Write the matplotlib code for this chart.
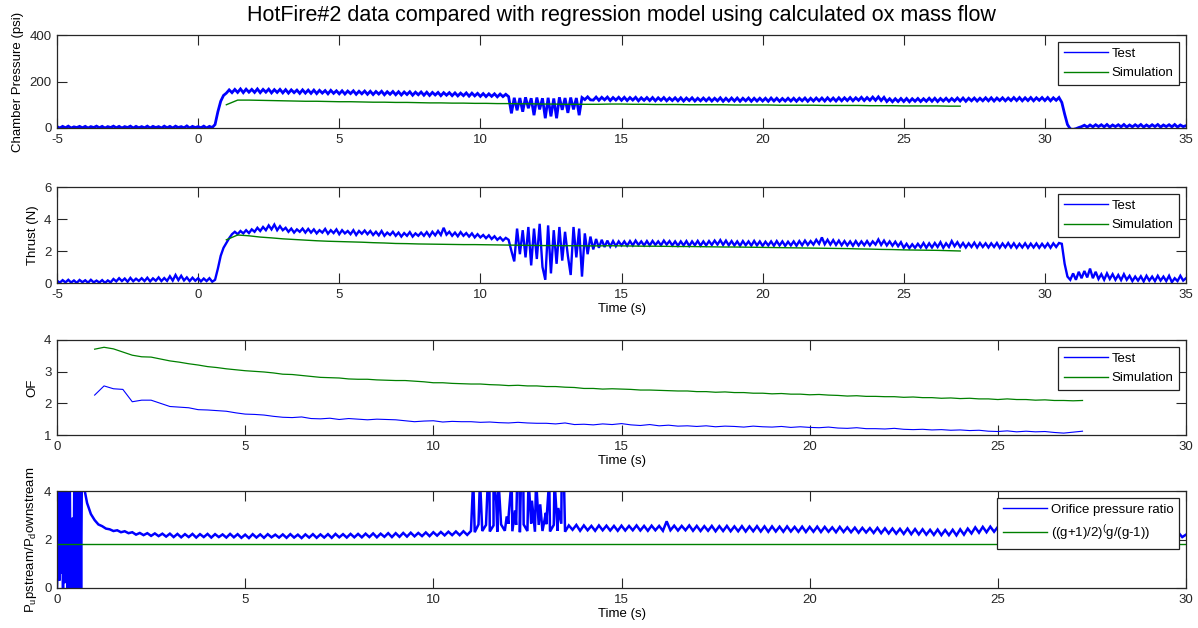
import numpy as np
import matplotlib
matplotlib.use("Agg")
import matplotlib.pyplot as plt
from matplotlib.lines import Line2D

# ---------------- data ----------------
# Chamber pressure, test (psi), sampled every 0.1 s from -5 s to 35 s
pc_test = [
    6, 0, 7, 1, 8, 0, 5, 2, 7, 1,
    7, 0, 6, 2, 8, 1, 7, 0, 6, 2,
    8, 1, 7, 0, 6, 2, 8, 0, 7, 1,
    6, 1, 8, 0, 7, 2, 6, 0, 8, 1,
    7, 0, 8, 2, 6, 1, 9, 0, 7, 2,
    6, 1, 8, 0, 7, 2, 15, 70, 115, 140,
    150, 164, 152, 166, 153, 168, 152, 167, 154, 166,
    153, 168, 152, 166, 154, 167, 151, 165, 153, 166,
    151, 165, 150, 164, 152, 163, 149, 164, 150, 163,
    149, 163, 148, 162, 150, 161, 147, 162, 149, 160,
    147, 160, 146, 159, 148, 160, 145, 158, 147, 159,
    145, 158, 144, 157, 146, 158, 143, 156, 145, 157,
    143, 156, 142, 155, 144, 156, 141, 154, 143, 155,
    141, 154, 140, 153, 142, 153, 139, 152, 141, 152,
    139, 151, 138, 150, 139, 151, 137, 150, 138, 149,
    136, 148, 135, 147, 136, 147, 134, 146, 135, 145,
    135, 63, 130, 76, 129, 70, 132, 85, 128, 55,
    131, 80, 128, 42, 130, 50, 127, 42, 132, 78,
    129, 65, 131, 80, 129, 55, 131, 122, 134, 121,
    120, 133, 119, 132, 121, 133, 118, 131, 120, 132,
    119, 132, 118, 131, 120, 132, 117, 130, 119, 131,
    118, 131, 117, 130, 119, 131, 117, 129, 118, 130,
    117, 130, 116, 129, 118, 130, 116, 128, 117, 129,
    117, 129, 116, 128, 117, 130, 115, 128, 116, 129,
    116, 129, 115, 128, 117, 129, 115, 128, 116, 128,
    116, 128, 115, 129, 116, 128, 115, 127, 116, 128,
    116, 128, 115, 128, 117, 129, 115, 128, 116, 129,
    117, 129, 116, 130, 117, 129, 116, 130, 117, 130,
    118, 131, 117, 130, 119, 132, 118, 131, 119, 133,
    119, 134, 118, 132, 114, 126, 113, 126, 114, 127,
    114, 127, 113, 126, 115, 127, 114, 126, 115, 128,
    115, 128, 114, 127, 116, 128, 115, 127, 116, 129,
    116, 129, 115, 128, 117, 129, 116, 128, 117, 130,
    117, 130, 116, 129, 118, 130, 117, 129, 118, 131,
    118, 131, 117, 130, 118, 131, 117, 130, 119, 131,
    118, 131, 117, 130, 119, 131, 110, 60, 15, -4,
    -6, -3, 2, 6, 12, 4, 13, 5, 14, 6,
    14, 5, 15, 4, 13, 6, 14, 5, 15, 4,
    13, 5, 14, 6, 15, 4, 13, 5, 14, 6,
    15, 4, 13, 6, 14, 5, 15, 4, 13, 6,
    10,
]

# Thrust, test (N), sampled every 0.1 s from -5 s to 35 s
thrust_test = [
    0.15, 0.02, 0.18, 0.04, 0.20, 0.03, 0.16, 0.01, 0.19, 0.05,
    0.17, 0.02, 0.20, 0.04, 0.15, 0.03, 0.18, 0.01, 0.16, 0.04,
    0.25, 0.10, 0.30, 0.12, 0.28, 0.08, 0.32, 0.11, 0.27, 0.13,
    0.30, 0.12, 0.33, 0.10, 0.29, 0.14, 0.35, 0.12, 0.31, 0.13,
    0.42, 0.15, 0.50, 0.18, 0.45, 0.16, 0.35, 0.12, 0.33, 0.14,
    0.30, 0.10, 0.28, 0.12, 0.30, 0.08, 0.20, 0.90, 1.70, 2.20,
    2.50, 2.80, 3.05, 3.20, 3.05, 3.25, 3.10, 3.30, 3.12, 3.35,
    3.20, 3.45, 3.25, 3.50, 3.30, 3.60, 3.35, 3.65, 3.30, 3.55,
    3.30, 3.45, 3.20, 3.40, 3.15, 3.35, 3.20, 3.40, 3.15, 3.38,
    3.15, 3.35, 3.10, 3.30, 3.15, 3.38, 3.08, 3.30, 3.12, 3.35,
    3.05, 3.30, 3.10, 3.25, 3.05, 3.30, 3.00, 3.25, 3.08, 3.28,
    3.05, 3.25, 3.00, 3.20, 2.98, 3.25, 2.95, 3.15, 3.00, 3.20,
    2.95, 3.15, 2.90, 3.12, 2.95, 3.18, 2.90, 3.10, 2.95, 3.15,
    2.95, 3.18, 2.92, 3.20, 2.98, 3.25, 3.00, 3.45, 3.02, 3.20,
    2.95, 3.15, 2.92, 3.18, 2.95, 3.12, 2.90, 3.10, 2.85, 3.05,
    2.85, 3.00, 2.80, 2.98, 2.75, 2.92, 2.70, 2.85, 2.65, 2.82,
    2.70, 2.00, 1.35, 3.40, 1.80, 3.30, 1.60, 3.50, 1.10, 3.40,
    1.50, 3.70, 1.00, 0.20, 3.60, 0.60, 3.30, 1.20, 3.50, 1.40,
    3.20, 1.70, 0.50, 3.50, 1.60, 3.40, 0.40, 3.10, 1.80, 2.90,
    2.10, 2.75, 2.20, 2.70, 2.25, 2.65, 2.28, 2.62, 2.30, 2.60,
    2.35, 2.60, 2.33, 2.62, 2.35, 2.65, 2.38, 2.60, 2.35, 2.62,
    2.35, 2.63, 2.38, 2.60, 2.36, 2.65, 2.40, 2.62, 2.35, 2.60,
    2.33, 2.60, 2.35, 2.62, 2.32, 2.60, 2.36, 2.63, 2.34, 2.60,
    2.35, 2.62, 2.38, 2.65, 2.40, 2.68, 2.38, 2.65, 2.36, 2.62,
    2.35, 2.60, 2.33, 2.62, 2.36, 2.60, 2.34, 2.63, 2.35, 2.60,
    2.32, 2.58, 2.35, 2.60, 2.33, 2.62, 2.35, 2.60, 2.32, 2.58,
    2.35, 2.60, 2.33, 2.62, 2.36, 2.65, 2.38, 2.62, 2.40, 2.70,
    2.45, 2.85, 2.42, 2.70, 2.40, 2.68, 2.38, 2.65, 2.36, 2.62,
    2.35, 2.60, 2.33, 2.62, 2.35, 2.60, 2.36, 2.62, 2.35, 2.60,
    2.40, 2.72, 2.38, 2.65, 2.35, 2.60, 2.33, 2.58, 2.30, 2.55,
    2.20, 2.45, 2.18, 2.42, 2.20, 2.45, 2.22, 2.50, 2.20, 2.48,
    2.22, 2.50, 2.25, 2.55, 2.20, 2.48, 2.25, 2.62, 2.30, 2.55,
    2.25, 2.50, 2.22, 2.48, 2.25, 2.52, 2.22, 2.50, 2.25, 2.48,
    2.22, 2.48, 2.25, 2.50, 2.20, 2.47, 2.23, 2.50, 2.22, 2.48,
    2.20, 2.45, 2.22, 2.48, 2.20, 2.46, 2.22, 2.47, 2.20, 2.45,
    2.22, 2.47, 2.20, 2.48, 2.25, 2.50, 2.45, 1.20, 0.40, 0.20,
    0.60, 0.20, 0.70, 0.30, 0.75, 0.35, 0.90, 0.30, 0.70, 0.25,
    0.55, 0.20, 0.60, 0.25, 0.55, 0.20, 0.50, 0.18, 0.55, 0.20,
    0.45, 0.12, 0.40, 0.15, 0.42, 0.10, 0.45, 0.15, 0.40, 0.12,
    0.45, 0.15, 0.40, 0.12, 0.45, 0.05, 0.30, 0.12, 0.45, 0.15,
    0.30,
]
test_dt = 0.1
test_t0 = -5.0

# Simulation (regression model), sampled every 0.4 s from 1.0 s
sim_t0, sim_dt = 1.0, 0.4
pc_sim = [
    100, 120, 120, 119, 118, 117, 116, 115, 115, 114,
    113, 113, 112, 111, 111, 110, 110, 109, 108, 108,
    107, 107, 106, 106, 105, 105, 104, 104, 103, 103,
    102, 102, 102, 102, 103, 103, 102, 102, 101, 101,
    101, 100, 100, 100, 100, 99, 99, 99, 99, 98,
    98, 98, 98, 97, 97, 97, 97, 96, 96, 96,
    95, 95, 95, 95, 94, 94,
]
thrust_sim = [
    2.70, 3.00, 2.95, 2.87, 2.82, 2.76, 2.72, 2.68, 2.64, 2.61,
    2.59, 2.57, 2.55, 2.52, 2.50, 2.47, 2.46, 2.44, 2.43, 2.42,
    2.41, 2.40, 2.40, 2.39, 2.38, 2.37, 2.36, 2.35, 2.34, 2.34,
    2.33, 2.33, 2.32, 2.32, 2.33, 2.32, 2.31, 2.30, 2.30, 2.29,
    2.28, 2.28, 2.27, 2.26, 2.25, 2.25, 2.24, 2.23, 2.22, 2.21,
    2.20, 2.19, 2.18, 2.17, 2.16, 2.15, 2.13, 2.12, 2.10, 2.09,
    2.07, 2.06, 2.05, 2.04, 2.02, 2.00,
]

# OF ratio, sampled every 0.25 s from 1.0 s to 27.25 s
of_t0, of_dt = 1.0, 0.25
of_test = [
    2.26, 2.55, 2.46, 2.44, 2.05, 2.10, 2.10, 2.00,
    1.90, 1.88, 1.86, 1.80, 1.79, 1.77, 1.75, 1.70,
    1.66, 1.65, 1.63, 1.59, 1.56, 1.55, 1.57, 1.52,
    1.51, 1.53, 1.49, 1.52, 1.50, 1.48, 1.50, 1.49,
    1.48, 1.45, 1.42, 1.44, 1.45, 1.41, 1.43, 1.42,
    1.42, 1.40, 1.41, 1.39, 1.38, 1.40, 1.38, 1.37,
    1.37, 1.35, 1.38, 1.33, 1.34, 1.32, 1.35, 1.33,
    1.36, 1.32, 1.30, 1.33, 1.29, 1.31, 1.28, 1.29,
    1.27, 1.29, 1.26, 1.28, 1.27, 1.25, 1.28, 1.26,
    1.25, 1.27, 1.24, 1.26, 1.24, 1.23, 1.25, 1.22,
    1.21, 1.23, 1.20, 1.20, 1.19, 1.21, 1.18, 1.17,
    1.18, 1.16, 1.17, 1.15, 1.16, 1.14, 1.15, 1.12,
    1.11, 1.13, 1.10, 1.12, 1.10, 1.11, 1.08, 1.06,
    1.09, 1.12,
]
of_sim = [
    3.71, 3.77, 3.72, 3.62, 3.52, 3.47, 3.46, 3.40,
    3.34, 3.30, 3.25, 3.21, 3.16, 3.13, 3.09, 3.06,
    3.03, 3.01, 2.99, 2.96, 2.92, 2.91, 2.88, 2.85,
    2.82, 2.81, 2.80, 2.77, 2.76, 2.76, 2.74, 2.73,
    2.72, 2.72, 2.70, 2.68, 2.65, 2.65, 2.63, 2.62,
    2.61, 2.61, 2.59, 2.58, 2.56, 2.57, 2.55, 2.55,
    2.53, 2.53, 2.51, 2.50, 2.47, 2.47, 2.45, 2.46,
    2.45, 2.44, 2.42, 2.42, 2.41, 2.40, 2.39, 2.39,
    2.37, 2.37, 2.35, 2.36, 2.34, 2.34, 2.32, 2.32,
    2.30, 2.31, 2.29, 2.29, 2.27, 2.28, 2.26, 2.25,
    2.23, 2.24, 2.22, 2.22, 2.21, 2.21, 2.19, 2.20,
    2.18, 2.18, 2.16, 2.17, 2.15, 2.16, 2.14, 2.14,
    2.12, 2.14, 2.12, 2.12, 2.10, 2.11, 2.09, 2.09,
    2.08, 2.09,
]

# Orifice pressure ratio: start-up transient every 0.02 s (0.00-0.68 s)
orifice_start_t0, orifice_start_dt = 0.0, 0.02
orifice_start = [
    0.0, 1.0, 4.5, 0.3, 4.5, 0.6, 2.7, 4.5, 0.0, 4.5,
    0.2, 3.6, 0.4, 4.5, 0.0, 4.5, 1.0, 4.5, 0.0, 2.8,
    0.0, 2.9, 0.0, 4.5, 0.0, 2.8, 0.0, 4.5, 0.0, 4.5,
    0.0, 4.5, 0.0, 4.5, 4.5,
]
# then every 0.1 s from 0.7 s to 30.0 s
orifice_t0, orifice_dt = 0.7, 0.1
orifice_ratio = [
    4.30, 3.50, 3.05,
    2.80, 2.62, 2.55, 2.45, 2.42, 2.35, 2.38, 2.30, 2.34, 2.26,
    2.30, 2.20, 2.27, 2.18, 2.26, 2.15, 2.25, 2.14, 2.24, 2.12,
    2.24, 2.10, 2.23, 2.09, 2.22, 2.10, 2.23, 2.08, 2.22, 2.10,
    2.23, 2.08, 2.22, 2.10, 2.21, 2.08, 2.23, 2.09, 2.22, 2.07,
    2.20, 2.06, 2.22, 2.08, 2.21, 2.07, 2.22, 2.09, 2.20, 2.08,
    2.21, 2.07, 2.22, 2.08, 2.20, 2.06, 2.21, 2.08, 2.22, 2.07,
    2.21, 2.08, 2.22, 2.07, 2.23, 2.09, 2.22, 2.08, 2.23, 2.09,
    2.23, 2.09, 2.24, 2.10, 2.25, 2.09, 2.24, 2.11, 2.26, 2.10,
    2.26, 2.11, 2.27, 2.12, 2.28, 2.13, 2.27, 2.14, 2.29, 2.14,
    2.30, 2.16, 2.31, 2.17, 2.32, 2.18, 2.33, 2.18, 2.34, 2.19,
    2.35, 2.30, 2.62, 2.35, 2.60, 2.33, 2.58, 2.32, 2.62, 2.36,
    2.65, 2.34, 2.60, 2.30, 2.62, 2.35, 2.66, 2.32, 2.60, 2.35,
    2.63, 2.33, 2.60, 2.36, 2.65, 2.32, 2.58, 2.40, 2.60, 2.36,
    2.58, 2.38, 2.56, 2.36, 2.58, 2.38, 2.57, 2.37, 2.56, 2.36,
    2.57, 2.37, 2.56, 2.38, 2.58, 2.37, 2.56, 2.36, 2.57, 2.38,
    2.56, 2.36, 2.75, 2.38, 2.57, 2.37, 2.56, 2.38, 2.58, 2.36,
    2.56, 2.35, 2.55, 2.36, 2.56, 2.34, 2.55, 2.35, 2.56, 2.34,
    2.54, 2.34, 2.55, 2.33, 2.54, 2.34, 2.55, 2.33, 2.54, 2.32,
    2.54, 2.33, 2.53, 2.32, 2.54, 2.33, 2.52, 2.32, 2.53, 2.31,
    2.52, 2.32, 2.53, 2.31, 2.52, 2.32, 2.50, 2.30, 2.52, 2.31,
    2.50, 2.30, 2.49, 2.28, 2.48, 2.29, 2.47, 2.27, 2.48, 2.26,
    2.46, 2.25, 2.45, 2.24, 2.44, 2.23, 2.45, 2.22, 2.43, 2.21,
    2.42, 2.20, 2.40, 2.19, 2.41, 2.18, 2.39, 2.18, 2.40, 2.17,
    2.42, 2.20, 2.45, 2.25, 2.50, 2.28, 2.52, 2.30, 2.53, 2.32,
    2.52, 2.30, 2.50, 2.31, 2.50, 2.29, 2.49, 2.30, 2.48, 2.28,
    2.47, 2.28, 2.48, 2.27, 2.46, 2.28, 2.47, 2.26, 2.46, 2.27,
    2.45, 2.26, 2.44, 2.25, 2.45, 2.24, 2.43, 2.24, 2.42, 2.23,
    2.40, 2.22, 2.40, 2.21, 2.39, 2.20, 2.38, 2.20, 2.37, 2.19,
    2.36, 2.18, 2.35, 2.16, 2.33, 2.15, 2.30, 2.12, 2.28, 2.10,
    2.20,
]
# spikes during the unstable phase (time s, peak ratio)
spike_t = [11.06, 11.24, 11.45, 11.49, 11.60, 11.67, 11.73, 11.95, 12.00,
           12.08, 12.17, 12.23, 12.29, 12.33, 12.39, 12.53, 12.62, 12.73,
           12.84, 12.99, 13.08, 13.22, 13.32, 13.41, 13.47]
spike_peak = [4.5, 4.5, 4.5, 4.5, 4.5, 3.6, 4.5, 2.95, 2.95,
              4.5, 3.2, 4.5, 4.5, 4.5, 4.5, 4.5, 3.6, 4.5,
              3.45, 3.1, 4.5, 4.5, 3.3, 4.5, 4.5]
# critical pressure ratio ((g+1)/2)^(g/(g-1))
crit_t = [0.0, 30.0]
crit_ratio = [1.832, 1.832]

title_text = "HotFire#2 data compared with regression model using calculated ox mass flow"

# ---------------- build time axes ----------------
t_test = test_t0 + test_dt * np.arange(len(pc_test))
t_sim = sim_t0 + sim_dt * np.arange(len(pc_sim))
t_of = of_t0 + of_dt * np.arange(len(of_test))
t_or_a = orifice_start_t0 + orifice_start_dt * np.arange(len(orifice_start))
t_or_b = orifice_t0 + orifice_dt * np.arange(len(orifice_ratio))
t_or = np.concatenate([t_or_a, t_or_b, np.array(spike_t)])
y_or = np.concatenate([orifice_start, orifice_ratio, spike_peak])
order = np.argsort(t_or, kind="stable")
t_or, y_or = t_or[order], y_or[order]

# ---------------- style ----------------
plt.rcParams["font.family"] = ["Liberation Sans", "DejaVu Sans"]
plt.rcParams["mathtext.fontset"] = "custom"
plt.rcParams["mathtext.rm"] = "Liberation Sans"
plt.rcParams["font.size"] = 9.5
plt.rcParams["axes.unicode_minus"] = False

BLUE = "#0000ff"
GREEN = "#008000"

fig = plt.figure(figsize=(11.98, 6.28), dpi=100)
W, H = 1198.0, 628.0
L, R = 57, 1186


def make_ax(top, bottom):
    ax = fig.add_axes([L / W, (H - bottom) / H, (R - L) / W, (bottom - top) / H])
    ax.tick_params(direction="in", top=True, right=True, length=7.5,
                   width=0.8, pad=4, labelsize=9.5, colors="#262626")
    for s in ax.spines.values():
        s.set_linewidth(0.9)
        s.set_color("#262626")
    return ax


ax1 = make_ax(35, 128)
ax2 = make_ax(187, 283)
ax3 = make_ax(340, 435)
ax4 = make_ax(491, 588)

legkw = dict(loc="upper right", fancybox=False, framealpha=1.0,
             edgecolor="#222222", fontsize=9.5, handlelength=3.3,
             borderaxespad=0.5, borderpad=0.45, labelspacing=0.55,
             handletextpad=0.3)


def add_legend(ax, labels):
    handles = [Line2D([], [], color=BLUE, lw=1.0),
               Line2D([], [], color=GREEN, lw=1.0)]
    lg = ax.legend(handles, labels, **legkw)
    lg.get_frame().set_linewidth(0.9)


# 1) chamber pressure
ax1.plot(t_test, pc_test, color=BLUE, lw=2.0, solid_joinstyle="miter")
ax1.plot(t_sim, pc_sim, color=GREEN, lw=1.0)
ax1.set_xlim(-5, 35)
ax1.set_ylim(0, 400)
ax1.set_yticks([0, 200, 400])
ax1.set_xticks(np.arange(-5, 36, 5))
ax1.set_ylabel("Chamber Pressure (psi)")
add_legend(ax1, ["Test", "Simulation"])

# 2) thrust
ax2.plot(t_test, thrust_test, color=BLUE, lw=1.7, solid_joinstyle="miter")
ax2.plot(t_sim, thrust_sim, color=GREEN, lw=1.0)
ax2.set_xlim(-5, 35)
ax2.set_ylim(0, 6)
ax2.set_yticks([0, 2, 4, 6])
ax2.set_xticks(np.arange(-5, 36, 5))
ax2.set_ylabel("Thrust (N)")
ax2.set_xlabel("Time (s)", labelpad=2)
add_legend(ax2, ["Test", "Simulation"])

# 3) OF
ax3.plot(t_of, of_test, color=BLUE, lw=0.8)
ax3.plot(t_of, of_sim, color=GREEN, lw=0.9)
ax3.set_xlim(0, 30)
ax3.set_ylim(1, 4)
ax3.set_yticks([1, 2, 3, 4])
ax3.set_xticks(np.arange(0, 31, 5))
ax3.set_ylabel("OF")
ax3.set_xlabel("Time (s)", labelpad=2)
add_legend(ax3, ["Test", "Simulation"])

# 4) orifice pressure ratio
ax4.plot(t_or, y_or, color=BLUE, lw=1.8, solid_joinstyle="miter")
ax4.plot(crit_t, crit_ratio, color=GREEN, lw=1.0)
ax4.set_xlim(0, 30)
ax4.set_ylim(0, 4)
ax4.set_yticks([0, 2, 4])
ax4.set_xticks(np.arange(0, 31, 5))
ax4.set_ylabel(r"P$_\mathregular{u}$pstream/P$_\mathregular{d}$ownstream")
ax4.set_xlabel("Time (s)", labelpad=2)
add_legend(ax4, ["Orifice pressure ratio",
                 r"((g+1)/2)$^{\mathregular{(}}$g/(g-1))"])

fig.text((L + R) / 2 / W, 1 - 16 / H, title_text, ha="center", va="center",
         fontsize=15.5)

fig.savefig("out.png", dpi=100, facecolor="white")
